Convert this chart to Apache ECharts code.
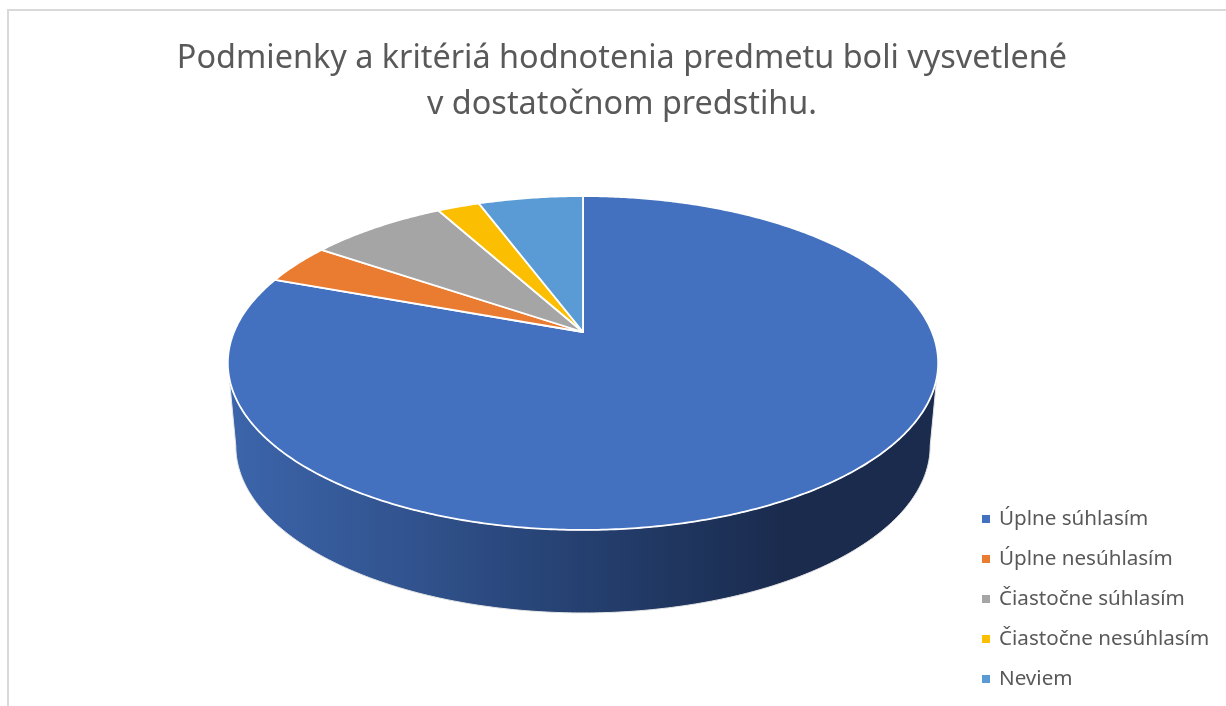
<!DOCTYPE html>
<html>
<head>
<meta charset="utf-8">
<title>Podmienky a kritériá</title>
<script src="https://cdn.jsdelivr.net/npm/echarts@6/dist/echarts.min.js"></script>
<style>
  html, body { margin: 0; padding: 0; background: #fff; }
  #chart { width: 1226px; height: 706px; }
</style>
</head>
<body>
<div id="chart"></div>
<script>
const titleText = 'Podmienky a kritériá hodnotenia predmetu boli vysvetlené\nv dostatočnom predstihu.'
const categories = ['Úplne súhlasím', 'Úplne nesúhlasím', 'Čiastočne súhlasím', 'Čiastočne nesúhlasím', 'Neviem']
const values = [80.6, 3.9, 7.5, 2.3, 5.7]
const colors = ['#4371c0', '#ea7c31', '#a5a5a5', '#fcbe00', '#5b9bd5']

// perspective of the tilted disc, in axis units
const tilt = 0.1856
const wallDrop = 0.515
const wallShrink = 0.9775

const total = values.reduce((a, b) => a + b, 0)

function project(angle) {
  let s = Math.sin(angle), t = Math.cos(angle)
  let den = tilt * t + 1
  return [s / den, t / den]
}

function sliceRange(index) {
  let before = values.slice(0, index).reduce((a, b) => a + b, 0)
  return [before / total * Math.PI * 2, (before + values[index]) / total * Math.PI * 2]
}

function arc(from, to) {
  let pts = []
  let n = Math.max(2, Math.ceil((to - from) / 0.01))
  for (let i = 0; i <= n; i++) pts.push(project(from + (to - from) * i / n))
  return pts
}

function renderSlice(index) {
  return function (params, api) {
    let range = sliceRange(index)
    let children = []

    // side wall: only the part of the slice facing the viewer
    let widest = Math.acos(-tilt)
    let from = Math.max(range[0], widest)
    let to = Math.min(range[1], Math.PI * 2 - widest)
    if (to > from) {
      let top = arc(from, to)
      let bottom = top.map(p => [p[0] * wallShrink, p[1] - wallDrop]).reverse()
      children.push({
        type: 'polygon',
        shape: { points: top.concat(bottom).map(p => api.coord(p)) },
        style: {
          stroke: '#e6e6e6',
          lineWidth: 1,
          fill: new echarts.graphic.LinearGradient(0, 0, 1, 0, [
            { offset: 0, color: '#3c65ab' },
            { offset: 0.24, color: '#325490' },
            { offset: 0.52, color: '#243e6d' },
            { offset: 0.78, color: '#1a2b4e' },
            { offset: 1, color: '#1a2b4e' }
          ])
        }
      })
    }

    // top face
    let face = [[0, 0]].concat(arc(range[0], range[1]))
    children.push({
      type: 'polygon',
      shape: { points: face.map(p => api.coord(p)) },
      style: { fill: colors[index], stroke: '#fff', lineWidth: 1.8, lineJoin: 'round' }
    })
    return { type: 'group', children: children }
  }
}

let myChart = echarts.init(document.getElementById('chart'), null, { renderer: 'canvas' })

let option = {
  animation: false,
  backgroundColor: '#fff',
  title: {
    text: titleText,
    left: 622,
    top: 36,
    padding: 0,
    textAlign: 'center',
    textStyle: {
      fontFamily: '"Noto Sans"',
      fontWeight: 'normal',
      fontSize: 32.4,
      lineHeight: 46,
      color: '#595959'
    }
  },
  legend: {
    orient: 'vertical',
    left: 982,
    top: 505,
    padding: 0,
    itemWidth: 8,
    itemHeight: 8,
    itemGap: 12,
    icon: 'rect',
    selectedMode: false,
    textStyle: {
      fontFamily: '"Noto Sans"',
      fontSize: 20.6,
      lineHeight: 28,
      color: '#595959',
      padding: [0, 0, 0, 4]
    },
    data: categories
  },
  grid: { left: 164.2, top: 170.8, width: 837.6, height: 483.6 },
  xAxis: { type: 'value', min: -1.2, max: 1.2, show: false },
  yAxis: { type: 'value', min: -2, max: 1, show: false },
  graphic: [{
    type: 'polyline',
    silent: true,
    shape: { points: [[8, 706], [8, 10], [1226, 10]] },
    style: { stroke: '#d9d9d9', lineWidth: 2, fill: null }
  }],
  series: categories.map((name, i) => ({
    type: 'custom',
    name: name,
    silent: true,
    clip: false,
    coordinateSystem: 'cartesian2d',
    itemStyle: { color: colors[i] },
    data: [[0, 0, values[i]]],
    renderItem: renderSlice(i)
  }))
}

myChart.setOption(option)
window.addEventListener('resize', () => { myChart.resize() })
</script>
</body>
</html>
